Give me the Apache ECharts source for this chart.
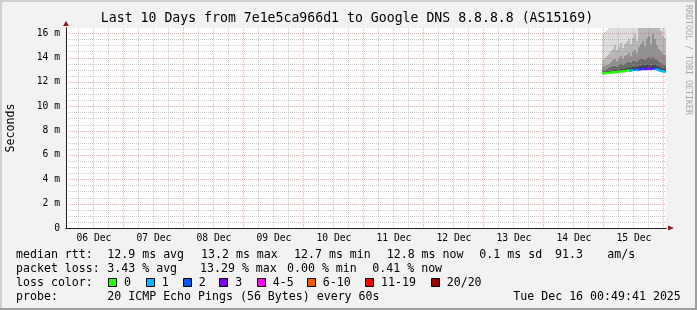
<!DOCTYPE html>
<html><head><meta charset="utf-8">
<script src="https://cdn.jsdelivr.net/npm/echarts@6/dist/echarts.min.js"></script>
<style>html,body{margin:0;padding:0;background:#f2f2f2}#c{width:697px;height:310px}</style>
</head><body><div id="c"></div>
<script>
// ---------- data ----------
const titleText = 'Last 10 Days from 7e1e5ca966d1 to Google DNS 8.8.8.8 (AS15169)';
// x axis in hours since 06 Dec 00:00
const xMin = 0.828, xMax = 240.828;
const dayLabels = ['06 Dec','07 Dec','08 Dec','09 Dec','10 Dec','11 Dec','12 Dec','13 Dec','14 Dec','15 Dec'];
const dayLabelHours = [12,36,60,84,108,132,156,180,204,228];
const dayGridHours = [24,48,72,96,120,144,168,192,216,240];
const minorGridHours = [6,12,18,30,36,42,54,60,66,78,84,90,102,108,114,126,132,138,150,156,162,174,180,186,198,204,210,222,228,234];
const yMin = 0, yMax = 16.43;
const yLabelValues = [0,2,4,6,8,10,12,14,16];
const yMajorGrid = [2,4,6,8,10,12,14,16];
const yMinorGrid = [0.5,1,1.5,2.5,3,3.5,4.5,5,5.5,6.5,7,7.5,8.5,9,9.5,10.5,11,11.5,12.5,13,13.5,14.5,15,15.5];
const stepHours = 0.8;
const times  = [215.2,216.0,216.8,217.6,218.4,219.2,220.0,220.8,221.6,222.4,223.2,224.0,224.8,225.6,226.4,227.2,228.0,228.8,229.6,230.4,231.2,232.0,232.8,233.6,234.4,235.2,236.0,236.8,237.6,238.4,239.2,240.0];
const median = [12.72,12.73,12.74,12.75,12.76,12.79,12.81,12.80,12.83,12.85,12.86,12.88,12.92,12.95,12.93,12.98,13.00,12.99,13.03,13.05,13.08,13.06,13.08,13.10,13.07,13.11,13.09,13.04,12.98,12.93,12.88,12.85];
const loss   = [0,0,0,0,0,0,0,0,0,0,0,0,0,0,1,1,2,1,2,3,2,3,3,2,3,3,2,1,1,1,1,1];
const pingMin= [12.60,12.61,12.62,12.63,12.64,12.66,12.68,12.68,12.70,12.72,12.73,12.75,12.78,12.81,12.80,12.84,12.86,12.85,12.88,12.90,12.93,12.91,12.93,12.95,12.92,12.96,12.94,12.90,12.85,12.81,12.76,12.73];
const ping12 = [12.84,12.85,12.87,12.89,12.92,12.96,12.99,12.96,13.01,13.05,13.03,13.08,13.12,13.17,13.13,13.20,13.24,13.19,13.28,13.31,13.35,13.29,13.36,13.39,13.32,13.41,13.36,13.29,13.21,13.15,13.09,13.05];
const ping14 = [13.00,13.02,13.06,13.12,13.20,13.28,13.33,13.25,13.38,13.45,13.36,13.50,13.56,13.62,13.52,13.68,13.72,13.62,13.80,13.86,13.92,13.78,13.96,14.02,13.85,14.06,13.92,13.78,13.62,13.52,13.42,13.36];
const ping16 = [13.25,13.30,13.38,13.50,13.65,13.80,13.90,13.72,13.95,14.10,13.88,14.15,14.25,14.35,14.15,14.45,14.60,14.40,14.90,15.10,15.40,14.95,15.60,15.80,15.10,15.90,15.50,15.00,14.70,14.50,14.30,14.20];
const ping18 = [13.80,13.95,14.10,14.30,14.50,14.70,15.00,14.60,14.90,15.20,14.80,15.10,15.30,15.50,15.10,15.60,15.90,15.40,16.60,17.20,17.80,16.90,18.00,18.20,17.10,18.40,17.60,17.00,16.50,16.20,15.80,15.60];
const ping20 = [15.90,16.10,16.30,17.00,18.50,19.00,20.00,18.00,20.50,21.00,19.50,21.00,22.00,22.50,21.00,23.00,24.00,22.00,25.00,25.00,26.00,24.00,26.00,27.00,25.00,27.00,26.00,24.00,22.00,21.00,20.00,19.50];
const lossLabels = ['0','1','2','3','4-5','6-10','11-19','20/20'];
const lossColors = ['#26ff00','#00b8ff','#0059ff','#7e00ff','#ff00ff','#ff5500','#ff0000','#a10000'];
const smokeColors = ['#dddddd','#b7b7b7','#919191','#6b6b6b','#454545'];
const statRow1 = [['median rtt:',16],['12.9 ms avg',107.3],['13.2 ms max',201],['12.7 ms min',294],['12.8 ms now',386.7],['0.1 ms sd',479.3],['91.3',555],['am/s',607.3]];
const statRow2 = [['packet loss:',16],['3.43 % avg',107.3],['13.29 % max',200],['0.00 % min',287],['0.41 % now',372.3]];
const statRow4 = [['probe:',16],['20 ICMP Echo Pings (56 Bytes) every 60s',107.3],['Tue Dec 16 00:49:41 2025',513.3]];
// ---------- chart ----------
const FONT = '"DejaVu Sans Mono", monospace';
const TXT = 11.6;
function lossBucket(n){ if(n<=0) return 0; if(n<=1) return 1; if(n<=2) return 2; if(n<=3) return 3; if(n<=5) return 4; if(n<=10) return 5; if(n<=19) return 6; return 7; }
const chart = echarts.init(document.getElementById('c'), null, {renderer:'canvas', width:697, height:310});

const graphics = [];
graphics.push({type:'rect', shape:{x:0,y:0,width:697,height:2}, style:{fill:'#cfcfcf'}, silent:true});
graphics.push({type:'rect', shape:{x:0,y:0,width:2,height:310}, style:{fill:'#cfcfcf'}, silent:true});
graphics.push({type:'rect', shape:{x:0,y:308,width:697,height:2}, style:{fill:'#9e9e9e'}, silent:true});
graphics.push({type:'rect', shape:{x:695,y:0,width:2,height:310}, style:{fill:'#9e9e9e'}, silent:true});
graphics.push({type:'text', x:347, y:19, style:{text:titleText, fontFamily:FONT, fontSize:13.2, fill:'#000', align:'center', verticalAlign:'middle'}, silent:true});
graphics.push({type:'text', x:688, y:60, rotation:-Math.PI/2, style:{text:'RRDTOOL / TOBI OETIKER', fontFamily:FONT, fontSize:8.3, fill:'#a8a8a8', align:'center', verticalAlign:'middle'}, silent:true});
function rowText(row, y){ row.forEach(([t,x])=>graphics.push({type:'text', x:x, y:y, style:{text:t, fontFamily:FONT, fontSize:TXT, fill:'#000', align:'left', verticalAlign:'middle'}, silent:true})); }
rowText(statRow1, 254.5);
rowText(statRow2, 268.5);
rowText([['loss color:',16]], 282.5);
rowText(statRow4, 296.5);
const boxX = [108,145.7,182.7,219.3,256.7,306.7,365,430.7];
lossLabels.forEach((lab,i)=>{
  const bx = Math.round(boxX[i]) + 0.5;
  graphics.push({type:'rect', shape:{x:bx, y:278.5, width:8, height:8}, style:{fill:lossColors[i], stroke:'#000', lineWidth:1}, silent:true});
  graphics.push({type:'text', x:boxX[i]+16, y:282.5, style:{text:lab, fontFamily:FONT, fontSize:TXT, fill:'#000', align:'left', verticalAlign:'middle'}, silent:true});
});

const minorColor = 'rgba(143,143,143,0.45)';
const majorColor = 'rgba(222,79,79,0.5)';

const option = {
  animation:false,
  backgroundColor:'#f2f2f2',
  graphic: graphics,
  grid:{left:66, top:28, width:600, height:200, show:true, backgroundColor:'#ffffff', borderWidth:0, containLabel:false, outerBoundsMode:'none'},
  xAxis:[
    {type:'value', position:'bottom', offset:0, min:xMin, max:xMax, z:5,
     axisLine:{show:true, onZero:false, lineStyle:{color:'#1f1f1f', width:1}},
     axisTick:{show:false, customValues:dayLabelHours},
     axisLabel:{show:true, customValues:dayLabelHours, formatter:(v)=>dayLabels[dayLabelHours.indexOf(Math.round(v))], fontFamily:FONT, fontSize:9.7, color:'#000', margin:5},
     splitLine:{show:false}},
    {type:'value', position:'bottom', offset:0, min:xMin, max:xMax, z:4,
     axisLine:{show:true, onZero:false, symbol:['none','triangle'], symbolSize:[5,6], symbolOffset:[0,5], lineStyle:{color:'#801f1f', width:1}},
     axisTick:{show:false}, axisLabel:{show:false}, splitLine:{show:false}}
  ],
  yAxis:[
    {type:'value', position:'left', offset:0, min:yMin, max:yMax, z:5,
     name:'Seconds', nameLocation:'middle', nameGap:49, nameRotate:90,
     nameTextStyle:{fontFamily:FONT, fontSize:TXT, color:'#000'},
     axisLine:{show:true, onZero:false, lineStyle:{color:'#1f1f1f', width:1}},
     axisTick:{show:false, customValues:yLabelValues},
     axisLabel:{show:true, customValues:yLabelValues, formatter:(v)=> v===0 ? '0' : (v+' m'), fontFamily:FONT, fontSize:9.7, color:'#000', margin:6},
     splitLine:{show:false}},
    {type:'value', position:'left', offset:0, min:yMin, max:yMax, z:4,
     axisLine:{show:true, onZero:false, symbol:['none','triangle'], symbolSize:[6,5], symbolOffset:[0,4.5], lineStyle:{color:'#801f1f', width:1}},
     axisTick:{show:false}, axisLabel:{show:false}, splitLine:{show:false}}
  ],
  series:[
    {type:'custom', name:'smoke', z:1, silent:true, xAxisIndex:0, yAxisIndex:0,
     data: times.map((t,i)=>[t, pingMin[i], median[i], ping20[i], ping18[i], ping16[i], ping14[i], ping12[i]]),
     encode:{x:0, y:[1,3]},
     renderItem:function(params, api){
       const t = api.value(0);
       const xa = Math.round(api.coord([t, 0])[0]);
       const xb = Math.round(api.coord([t + stepHours, 0])[0]);
       const cs = params.coordSys;
       const bands = [[1,3],[2,4],[2,5],[2,6],[2,7]];
       const children = [];
       bands.forEach((b, k)=>{
         const yTop = Math.round(api.coord([t, api.value(b[1])])[1]);
         const yBot = Math.round(api.coord([t, api.value(b[0])])[1]);
         const r = echarts.graphic.clipRectByRect({x:xa, y:yTop, width:xb-xa, height:yBot-yTop}, {x:cs.x, y:cs.y, width:cs.width, height:cs.height});
         if (r) children.push({type:'rect', shape:r, style:{fill:smokeColors[k]}});
       });
       return {type:'group', children:children};
     }},
    {type:'custom', name:'vgrid', z:2, silent:true, xAxisIndex:0, yAxisIndex:0,
     data: minorGridHours.map(h=>[h,0]).concat(dayGridHours.map(h=>[h,1])),
     encode:{x:0, y:1},
     renderItem:function(params, api){
       const cs = params.coordSys;
       const x = Math.floor(api.coord([api.value(0), 0])[0]) + 0.5;
       return {type:'line', shape:{x1:x, y1:cs.y, x2:x, y2:cs.y+cs.height}, style:{stroke: api.value(1) ? majorColor : minorColor, lineWidth:1, lineDash:[1,1]}};
     }},
    {type:'custom', name:'hgrid', z:2, silent:true, xAxisIndex:0, yAxisIndex:0,
     data: yMinorGrid.map(v=>[xMin,v,0]).concat(yMajorGrid.map(v=>[xMin,v,1])),
     encode:{x:0, y:1},
     renderItem:function(params, api){
       const cs = params.coordSys;
       const y = Math.round(api.coord([xMin, api.value(1)])[1]) + 0.5;
       return {type:'line', shape:{x1:cs.x, y1:y, x2:cs.x+cs.width, y2:y}, style:{stroke: api.value(2) ? majorColor : minorColor, lineWidth:1, lineDash:[1,1]}};
     }},
    {type:'custom', name:'median', z:3, silent:true, xAxisIndex:0, yAxisIndex:0,
     data: times.map((t,i)=>[t, median[i], loss[i]]),
     encode:{x:0, y:1},
     renderItem:function(params, api){
       const i = params.dataIndex;
       const t = api.value(0);
       const xa = Math.round(api.coord([t, 0])[0]);
       const xb = Math.round(api.coord([t + stepHours, 0])[0]);
       const y = api.coord([t, api.value(1)])[1];
       const pts = [];
       if (i > 0) pts.push([xa, api.coord([times[i-1], median[i-1]])[1]]);
       pts.push([xa, y]); pts.push([xb, y]);
       return {type:'polyline', shape:{points:pts}, style:{stroke:lossColors[lossBucket(api.value(2))], lineWidth:2.2, fill:'none'}};
     }}
  ]
};
chart.setOption(option);
</script>
</body></html>
